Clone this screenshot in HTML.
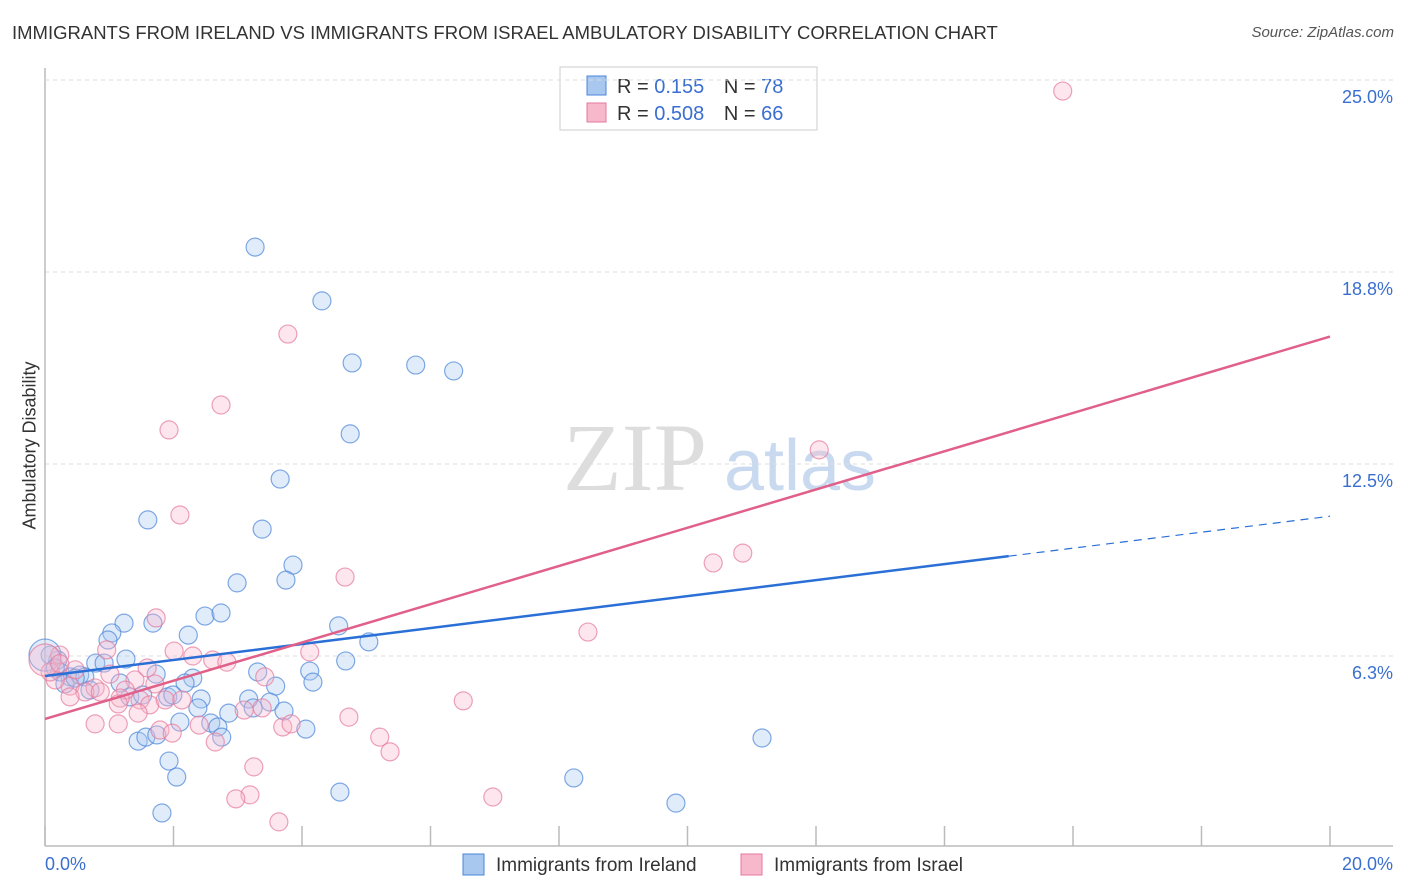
<!DOCTYPE html>
<html><head><meta charset="utf-8">
<style>
body{margin:0;background:#fff;font-family:"Liberation Sans",sans-serif;}
#wrap{position:relative;width:1406px;height:892px;overflow:hidden;}
.t{position:absolute;white-space:nowrap;}
</style></head><body>
<div id="wrap">
<div class="t" style="left:12px;top:22px;font-size:18.5px;color:#333;">IMMIGRANTS FROM IRELAND VS IMMIGRANTS FROM ISRAEL AMBULATORY DISABILITY CORRELATION CHART</div>
<div class="t" style="right:12px;top:24px;font-size:15px;color:#555;font-style:italic;">Source: ZipAtlas.com</div>
<div class="t" style="left:-45px;top:444px;font-size:18px;color:#333;transform:rotate(-90deg);width:150px;text-align:center;">Ambulatory Disability</div>
<svg id="svg" width="1406" height="892" style="position:absolute;left:0;top:0"></svg>
</div>
<script>
const yTicks=[6.25,12.5,18.75,25];
const yTickLabels=["6.3%","12.5%","18.8%","25.0%"];
const xTickVals=[0,2,4,6,8,10,12,14,16,18,20];
const irelandX=[3.27,4.31,4.78,5.77,6.36,4.75,3.66,1.60,3.38,3.86,2.99,3.75,2.49,2.74,1.68,1.23,1.04,2.23,4.57,5.04,0.98,1.26,0.79,0.92,0.20,4.68,0.08,3.31,1.73,2.30,4.12,4.17,3.59,2.18,0.23,0.39,0.54,0.62,0.31,0.70,1.32,1.52,1.91,1.99,2.43,3.17,3.50,2.86,3.72,3.24,2.38,2.10,2.58,2.69,2.75,4.06,1.45,1.57,1.74,1.93,2.05,4.59,8.23,9.82,11.16,1.82,0.0,0.16,0.47,1.17];
const irelandY=[19.56,17.81,15.79,15.72,15.53,13.48,12.01,10.68,10.38,9.21,8.63,8.72,7.55,7.65,7.32,7.32,7.00,6.93,7.23,6.71,6.77,6.15,6.02,6.02,6.12,6.09,6.28,5.73,5.66,5.53,5.76,5.40,5.27,5.37,5.73,5.57,5.63,5.57,5.34,5.14,4.92,4.98,4.92,4.98,4.85,4.85,4.75,4.39,4.46,4.56,4.56,4.10,4.07,3.94,3.61,3.87,3.48,3.61,3.68,2.83,2.31,1.82,2.28,1.46,3.58,1.14,6.28,5.86,5.53,5.37];
const israelX=[15.84,3.78,2.74,1.93,12.05,2.10,10.86,10.40,4.67,8.45,1.73,2.01,2.30,2.61,2.83,4.12,0.96,0.23,1.59,1.01,3.42,1.40,1.71,0.78,1.25,0.39,0.16,0.08,0.47,0.62,1.48,1.17,0.86,1.14,1.63,1.87,2.13,1.45,0.39,6.51,3.10,3.38,0.78,1.14,1.79,1.98,2.40,2.65,3.70,3.83,4.73,5.21,5.37,3.25,3.19,2.97,6.97,3.64,0,0.23];
const israelY=[24.64,16.73,14.42,13.61,12.96,10.84,9.60,9.28,8.82,7.03,7.49,6.41,6.25,6.12,6.05,6.38,6.45,6.28,5.86,5.66,5.57,5.47,5.34,5.21,5.14,5.27,5.47,5.73,5.80,5.08,4.82,4.88,5.08,4.69,4.66,4.82,4.82,4.39,4.92,4.79,4.49,4.56,4.04,4.04,3.84,3.74,4.00,3.45,3.94,4.04,4.26,3.61,3.13,2.64,1.73,1.60,1.66,0.85,6.12,6.0];
const irelandLine=[[0,5.6],[15,9.5],[20,10.8]];
const israelLine=[[0,4.2],[20,16.65]];
const X=v=>45+v*64.25, Y=v=>848-v*30.72;
const svg=document.getElementById('svg');const NS='http://www.w3.org/2000/svg';
function mk(t,a,p){const e=document.createElementNS(NS,t);for(const k in a)e.setAttribute(k,a[k]);(p||svg).appendChild(e);return e;}
let w=mk('text',{x:635,y:490,'font-size':96,'font-family':'Liberation Serif,serif',fill:'#ddd','text-anchor':'middle'});w.textContent='ZIP';


let w2=mk('text',{x:800,y:490,'font-size':72,'font-family':'Liberation Sans,sans-serif',fill:'#c9daf0','text-anchor':'middle'});w2.textContent='atlas';


yTicks.forEach((v,i)=>{
 let g=mk('line',{x1:45,x2:1393,y1:Y(v),y2:Y(v),stroke:'#ddd','stroke-dasharray':'4,4'});
 
 
 let t=mk('text',{x:1393,y:Y(v)+23,'font-size':18,fill:'#3a6fd0','text-anchor':'end'});t.textContent=yTickLabels[i];
 
 
});
let ax=mk('line',{x1:45,x2:45,y1:68,y2:846,stroke:'#bbb','stroke-width':1.5});

let bx=mk('line',{x1:45,x2:1393,y1:846,y2:846,stroke:'#bbb','stroke-width':1.5});

xTickVals.forEach(v=>{let t=mk('line',{x1:X(v),x2:X(v),y1:826,y2:846,stroke:'#bbb','stroke-width':1.5});
 });
let xl=mk('text',{x:45,y:870,'font-size':18,fill:'#3a6fd0'});xl.textContent='0.0%';

let xr=mk('text',{x:1393,y:870,'font-size':18,fill:'#3a6fd0','text-anchor':'end'});xr.textContent='20.0%';

function pts(xs,ys,fill,stroke,name){xs.forEach((x,i)=>{let r=(x===0)?16:9;let c=mk('circle',{cx:X(x),cy:Y(ys[i]),r:r,fill:fill,'fill-opacity':0.35,stroke:stroke,'stroke-opacity':0.7,'stroke-width':1.2});
 });}
pts(irelandX,irelandY,'#a8c8f0','#4a85d8','ireland-point');
pts(israelX,israelY,'#f8b8cc','#e47a9c','israel-point');
let l1=mk('line',{x1:X(irelandLine[0][0]),y1:Y(irelandLine[0][1]),x2:X(irelandLine[1][0]),y2:Y(irelandLine[1][1]),stroke:'#2a6fd6','stroke-width':2.5});

let l1d=mk('line',{x1:X(irelandLine[1][0]),y1:Y(irelandLine[1][1]),x2:X(irelandLine[2][0]),y2:Y(irelandLine[2][1]),stroke:'#2a6fd6','stroke-width':1.2,'stroke-dasharray':'8,6'});

let l2=mk('line',{x1:X(israelLine[0][0]),y1:Y(israelLine[0][1]),x2:X(israelLine[1][0]),y2:Y(israelLine[1][1]),stroke:'#e0608a','stroke-width':2.5});

let lg=mk('rect',{x:560,y:67,width:257,height:63,fill:'#fff',stroke:'#ccc'});

[[0,'#a8c8f0','#4a85d8',' 0.155','78'],[1,'#f8b8cc','#e47a9c','0.508','66']].forEach(([i,f,s,r,n])=>{
 let yy=76+i*27;
 let sw=mk('rect',{x:587,y:yy,width:19,height:19,fill:f,stroke:s});
 
 let t=mk('text',{x:617,y:yy+17,'font-size':20,fill:'#333'});
 t.innerHTML='R = <tspan fill="#3a6fd0">'+r+'</tspan>  <tspan dx="14">N = </tspan><tspan fill="#3a6fd0">'+n+'</tspan>';
 
});
[[463,'#a8c8f0','#4a85d8','Immigrants from Ireland'],[741,'#f8b8cc','#e47a9c','Immigrants from Israel']].forEach(([x,f,s,l])=>{
 let sw=mk('rect',{x:x,y:854,width:21,height:21,fill:f,stroke:s});
 
 let t=mk('text',{x:x+33,y:871,'font-size':19,fill:'#333'});t.textContent=l;
 
});
let topGrid=mk('line',{x1:45,x2:1393,y1:Y(25),y2:Y(25),stroke:'#ddd','stroke-dasharray':'4,4'});


</script>
</body></html>
